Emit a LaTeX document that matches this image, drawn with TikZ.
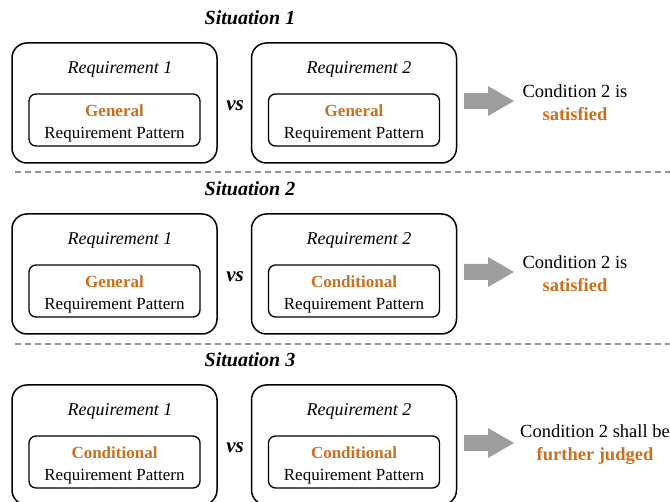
\documentclass[tikz,border=0pt]{standalone}
\usepackage{fontspec}
\setmainfont{Liberation Serif}
\definecolor{accent}{RGB}{200,112,32}
\definecolor{arrowgray}{RGB}{158,158,158}
\definecolor{sepgray}{RGB}{150,150,150}
\tikzset{
  outerbox/.style={draw, line width=1.5pt, rounded corners=15pt,
    minimum width=205pt, minimum height=120pt, inner sep=0pt},
  innerbox/.style={draw, line width=1.3pt, rounded corners=7pt,
    minimum width=171pt, minimum height=52pt, inner sep=0pt},
  pattext/.style={align=center, inner sep=0pt,
    font=\fontsize{17}{22}\selectfont},
  reqlabel/.style={font=\fontsize{18}{22}\selectfont\itshape, inner sep=0pt},
  vslabel/.style={font=\fontsize{21}{24}\selectfont\bfseries\itshape, inner sep=0pt},
  sitlabel/.style={font=\fontsize{20}{24}\selectfont\bfseries\itshape, inner sep=0pt},
  result/.style={align=center, inner sep=0pt, font=\fontsize{18.5}{23}\selectfont},
  bigarrow/.style={fill=arrowgray, draw=none},
  separator/.style={sepgray, line width=1.2pt, dash pattern=on 6pt off 4pt},
}
\newcommand{\hl}[1]{\textcolor{accent}{\textbf{#1}}}
\begin{document}
\begin{tikzpicture}[x=1pt,y=-1pt]
\useasboundingbox (0,0) rectangle (670,502);

% one row per situation, rows are 171pt apart
\foreach \r/\kindA/\kindB/\resx/\restext in {
  1/General/General/575/{Condition 2 is\\\hl{satisfied}},
  2/General/Conditional/575/{Condition 2 is\\\hl{satisfied}},
  3/Conditional/Conditional/595/{Condition 2 shall be\\\hl{further judged}}}{
  \pgfmathsetmacro{\dy}{(\r-1)*171}
  \begin{scope}[yshift=-\dy pt]
    \node[sitlabel] (sit\r) at (250,18) {Situation \r};
    \node[outerbox] (reqA\r) at (114.5,103) {};
    \node[outerbox] (reqB\r) at (354,103) {};
    \node[reqlabel] (labA\r) at (120,69) {Requirement 1};
    \node[reqlabel] (labB\r) at (359,69) {Requirement 2};
    \node[innerbox] (patA\r) at (114.5,120) {};
    \node[innerbox] (patB\r) at (354,120) {};
    \node[pattext] (txtA\r) at (114.5,123) {\hl{\kindA}\\Requirement Pattern};
    \node[pattext] (txtB\r) at (354,123) {\hl{\kindB}\\Requirement Pattern};
    \node[vslabel] (vs\r) at (235,106) {vs};
    % block arrow pointing to the outcome
    \coordinate (arr\r) at (464,101);
    \fill[bigarrow] (arr\r) ++(0,-8) -- ++(24,0) -- ++(0,-7) -- ++(26,15)
      -- ++(-26,15) -- ++(0,-7) -- ++(-24,0) -- cycle;
    \node[result] (res\r) at (\resx,103) {\restext};
  \end{scope}
}

% dashed separators between the situations
\coordinate (sepL1) at (15,172);
\coordinate (sepR1) at (670,172);
\coordinate (sepL2) at (15,344);
\coordinate (sepR2) at (670,344);
\draw[separator] (sepL1) -- (sepR1);
\draw[separator] (sepL2) -- (sepR2);
\end{tikzpicture}
\end{document}
